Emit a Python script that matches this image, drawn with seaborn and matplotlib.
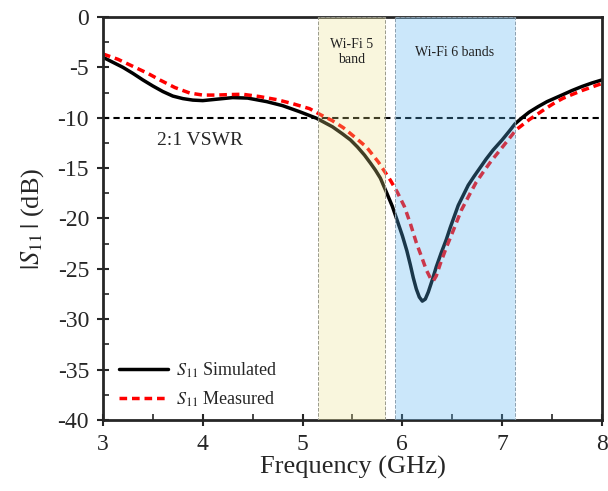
import numpy as np
import pandas as pd
import seaborn as sns
import matplotlib.pyplot as plt
from matplotlib.ticker import MultipleLocator, FormatStrFormatter

# simulated |S11|
sim_freq = [3.0, 3.1, 3.2, 3.3, 3.4, 3.5, 3.6, 3.7, 3.8, 3.9, 4.0, 4.15, 4.30, 4.45,
            4.64, 4.8, 4.97, 5.14, 5.30, 5.40, 5.48, 5.55, 5.62, 5.68, 5.73, 5.78,
            5.845, 5.90, 5.945, 6.0, 6.045, 6.08, 6.11, 6.14, 6.17, 6.20, 6.23,
            6.26, 6.30, 6.34, 6.39, 6.44, 6.48, 6.52, 6.56, 6.61, 6.66, 6.72, 6.78,
            6.84, 6.91, 7.0, 7.07, 7.13, 7.2, 7.27, 7.36, 7.45, 7.53, 7.61, 7.7,
            7.8, 7.9, 8.0]
sim_s11 = [-4.0, -4.5, -5.0, -5.6, -6.25, -6.85, -7.4, -7.85, -8.1, -8.25, -8.3, -8.15,
           -8.0, -8.05, -8.4, -8.8, -9.4, -10.05, -10.9, -11.6, -12.2, -12.9, -13.7,
           -14.5, -15.2, -16.0, -17.5, -18.8, -20.1, -21.7, -23.2, -24.6, -25.9,
           -27.0, -27.8, -28.2, -28.0, -27.3, -26.1, -24.8, -23.4, -22.1, -20.9,
           -19.8, -18.7, -17.7, -16.7, -15.8, -14.95, -14.1, -13.2, -12.2, -11.35,
           -10.6, -10.0, -9.45, -8.9, -8.4, -8.05, -7.7, -7.3, -6.9, -6.55, -6.25]

# measured |S11|
meas_freq = [3.0, 3.15, 3.30, 3.45, 3.57, 3.72, 3.87, 4.0, 4.14, 4.27, 4.40, 4.57,
             4.74, 4.90, 5.07, 5.18, 5.30, 5.41, 5.52, 5.64, 5.76, 5.88, 5.95, 6.02,
             6.08, 6.14, 6.20, 6.24, 6.28, 6.31, 6.34, 6.38, 6.44, 6.51, 6.59, 6.68,
             6.74, 6.81, 6.89, 6.98, 7.06, 7.14, 7.27, 7.36, 7.45, 7.53, 7.61, 7.7,
             7.8, 7.9, 8.0]
meas_s11 = [-3.67, -4.2, -4.9, -5.6, -6.25, -7.0, -7.55, -7.75, -7.75, -7.7, -7.67, -7.9,
            -8.2, -8.6, -9.1, -9.7, -10.3, -11.0, -11.9, -12.9, -14.4, -16.2, -17.4,
            -18.8, -20.5, -22.4, -24.0, -25.1, -25.9, -26.2, -25.7, -24.5, -22.9,
            -21.2, -19.2, -17.5, -16.4, -15.4, -14.3, -13.2, -12.2, -11.2, -10.2,
            -9.6, -9.0, -8.5, -8.07, -7.7, -7.3, -6.95, -6.6]

wifi5_band = (5.15, 5.825)
wifi6_band = (5.925, 7.125)
vswr_level = -10

sim_df = pd.DataFrame({'freq': sim_freq, 's11': sim_s11})
meas_df = pd.DataFrame({'freq': meas_freq, 's11': meas_s11})

sns.set_style('ticks')
plt.rcParams['font.family'] = ['Liberation Serif', 'DejaVu Serif']
plt.rcParams['mathtext.fontset'] = 'stix'
plt.rcParams['axes.unicode_minus'] = False

fig = plt.figure(figsize=(6.08, 4.91), dpi=100)
ax = fig.add_axes([0.1694, 0.1446, 0.8206, 0.8208])

sns.lineplot(data=sim_df, x='freq', y='s11', ax=ax, color='black', lw=2.5,
             label=r'$S_{11}$ Simulated', sort=False)
sns.lineplot(data=meas_df, x='freq', y='s11', ax=ax, color='red', lw=2.5,
             label=r'$S_{11}$ Measured', sort=False)
for ln in ax.lines:
    ln.set_solid_joinstyle('round')
ax.lines[1].set_dashes([2.2, 1.4])

ax.axhline(vswr_level, color='black', ls='--', lw=1.5, dashes=(3, 2), zorder=1)
ax.text(3.97, -12.3, '2:1 VSWR', fontsize=14, ha='center', va='center')

# band overlays sit on top of the curves
ax.axvspan(*wifi5_band, facecolor='#eadf88', alpha=0.28, zorder=5)
ax.axvspan(*wifi5_band, facecolor='none', edgecolor='#9a9a8a', ls='--', lw=0.7, zorder=6)
ax.axvspan(*wifi6_band, facecolor='#57b4f0', alpha=0.31, zorder=5)
ax.axvspan(*wifi6_band, facecolor='none', edgecolor='#8aa0b0', ls='--', lw=0.7, zorder=6)
ax.text(sum(wifi5_band) / 2, -3.5, 'Wi-Fi 5\nband', fontsize=10, ha='center', va='center',
        color='#222222', zorder=7, linespacing=1.2)
ax.text(sum(wifi6_band) / 2, -3.5, 'Wi-Fi 6 bands', fontsize=10, ha='center', va='center',
        color='#222222', zorder=7)

ax.set_xlim(3, 8)
ax.set_ylim(-40, 0)
ax.xaxis.set_major_locator(MultipleLocator(1))
ax.xaxis.set_minor_locator(MultipleLocator(0.5))
ax.yaxis.set_major_locator(MultipleLocator(5))
ax.yaxis.set_minor_locator(MultipleLocator(2.5))
ax.yaxis.set_major_formatter(FormatStrFormatter('%d'))
ax.tick_params(which='major', direction='inout', length=8, width=1.5, labelsize=17,
               top=False, right=False)
ax.tick_params(axis='x', which='major', pad=6)
ax.tick_params(axis='y', which='major', pad=6)
ax.tick_params(which='minor', direction='in', length=4, width=1.2, top=False, right=False)
for s in ax.spines.values():
    s.set_linewidth(2)
    s.set_visible(True)

ax.set_xlabel('Frequency (GHz)', fontsize=19, labelpad=1)
ax.set_ylabel(r'$|S_{11}\,|$ (dB)', fontsize=19, labelpad=8)

leg = ax.legend(loc='lower left', bbox_to_anchor=(0.004, -0.009), frameon=False, fontsize=13,
                handlelength=2.7, handletextpad=0.45, borderaxespad=0.4, labelspacing=0.55)

plt.savefig('out.png', dpi=100)
plt.close()
